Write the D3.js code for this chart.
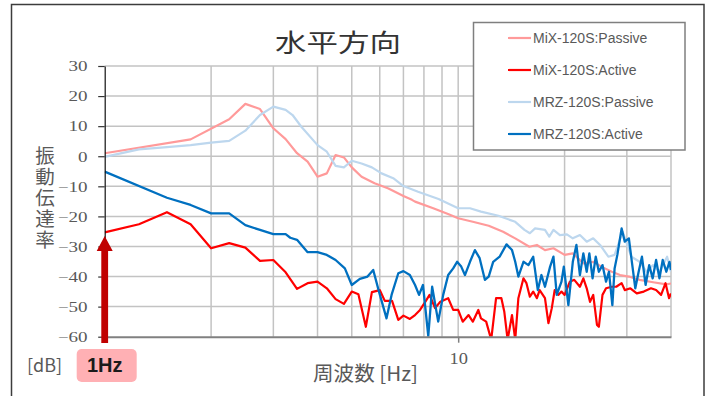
<!DOCTYPE html>
<html>
<head>
<meta charset="utf-8">
<script src="https://cdn.jsdelivr.net/npm/d3@7/dist/d3.min.js"></script>
<style>
  body { margin: 0; background: #fff; }
  svg { display: block; }
</style>
</head>
<body>
<svg id="chart" width="713" height="396"></svg>
<script>
// ---- Data: transmissibility [dB] versus frequency [Hz] ----
const seriesNames = ["MiX-120S:Passive", "MiX-120S:Active", "MRZ-120S:Passive", "MRZ-120S:Active"];

const mixPassiveHz = [1, 1.75, 2.25, 2.5, 2.75, 3, 3.25, 3.5, 3.75, 4, 4.25, 4.5, 4.75, 5, 5.33, 5.8, 6.35, 7.0, 7.4, 7.55, 8.5, 9.4, 10, 11, 12.2, 13.4, 14.5, 15.9, 16.7, 17.6, 18.6, 20, 21.1, 22.6, 24.1, 25.4, 27.2, 28.7, 30.4, 32.6, 35.6, 38.8, 40];
const mixPassiveDb = [1.0, 5.6, 12.3, 17.4, 15.7, 9.3, 5.7, 1.0, -1.8, -6.8, -5.7, 0.4, -0.4, -3.7, -6.8, -9.0, -10.7, -13.2, -14.5, -15.1, -17.3, -19.3, -20.6, -21.8, -23.1, -25.1, -27.3, -30.1, -29.5, -31.2, -30.6, -32.8, -32.3, -35.6, -35.1, -36.7, -38.4, -39.5, -40.0, -41.1, -41.9, -42.6, -42.3];

const mixActiveHz = [1, 1.25, 1.5, 1.75, 2, 2.25, 2.5, 2.75, 3, 3.25, 3.5, 3.75, 4, 4.25, 4.5, 4.75, 5, 5.22, 5.48, 5.7, 6.0, 6.2, 6.5, 6.77, 7.0, 7.3, 7.55, 7.8, 8.07, 8.3, 8.6, 8.9, 9.37, 9.68, 10, 10.3, 10.7, 11, 11.4, 11.6, 12.0, 12.4, 12.8, 13.25, 13.5, 13.8, 14.2, 14.5, 14.8, 15.3, 15.6, 15.95, 16.3, 16.7, 17.0, 17.6, 18.0, 18.4, 18.75, 19.2, 19.6, 20, 20.7, 21.3, 22.1, 22.6, 23.1, 23.6, 24.1, 24.7, 25.0, 25.6, 26.2, 27.2, 28.0, 29.0, 29.6, 30.7, 32.0, 33.5, 35.1, 36.3, 37.5, 38.6, 39.5, 40];
const mixActiveDb = [-25.3, -22.6, -18.6, -22.6, -30.6, -28.9, -30.4, -34.8, -34.5, -38.6, -44.1, -42.2, -41.7, -43.9, -47.5, -49.1, -45.0, -45.9, -56.7, -45.2, -44.5, -48.1, -48.1, -54.4, -53.0, -54.1, -52.8, -51.1, -48.4, -46.1, -50.5, -48.4, -47.2, -51.1, -51.1, -55.0, -52.8, -55.0, -51.1, -53.9, -55.0, -61.0, -47.2, -47.2, -51.6, -61.0, -52.8, -61.0, -47.2, -40.6, -42.2, -46.7, -45.0, -47.2, -44.5, -47.2, -55.5, -50.5, -44.5, -46.1, -45.0, -46.1, -41.7, -41.1, -43.4, -40.6, -43.9, -48.4, -46.1, -56.1, -56.7, -46.1, -43.9, -43.4, -43.4, -42.2, -44.5, -43.9, -45.6, -45.0, -43.9, -44.5, -46.1, -42.2, -47.2, -45.6];

const mrzPassiveHz = [1, 1.25, 1.5, 1.75, 2, 2.25, 2.5, 2.75, 3, 3.25, 3.4, 3.6, 4, 4.25, 4.5, 4.75, 5, 5.33, 5.7, 6.07, 6.55, 7.0, 7.7, 8.8, 10, 10.8, 11.6, 13.0, 14.5, 15.4, 15.95, 16.5, 17.6, 18.1, 18.6, 19.4, 20.3, 21.1, 22.1, 23.1, 24.1, 25.2, 26.6, 27.7, 29.2, 30.9, 32.6, 34.1, 35.6, 37.1, 39.0, 40];
const mrzPassiveDb = [-0.2, 2.3, 3.0, 3.7, 4.5, 5.1, 8.5, 13.7, 16.5, 15.4, 13.7, 9.8, 3.7, 1.5, -3.2, -3.7, -1.5, -2.4, -3.7, -5.7, -7.3, -9.9, -11.8, -14.2, -17.3, -17.3, -18.4, -19.8, -21.8, -24.5, -25.6, -24.0, -24.5, -26.7, -24.5, -26.2, -26.0, -27.3, -26.2, -28.4, -27.3, -29.5, -33.4, -32.8, -25.1, -33.4, -35.1, -38.4, -36.2, -38.4, -33.4, -38.4];

const mrzActiveHz = [1, 1.5, 1.75, 2, 2.25, 2.5, 2.75, 3, 3.25, 3.35, 3.5, 3.75, 4, 4.25, 4.5, 4.78, 5, 5.27, 5.54, 5.75, 5.97, 6.27, 6.48, 6.77, 7.0, 7.3, 7.55, 7.75, 7.95, 8.23, 8.44, 8.78, 9.07, 9.37, 9.68, 9.93, 10.2, 10.45, 10.8, 11.15, 11.5, 11.9, 12.2, 12.56, 13.1, 13.7, 14.2, 14.5, 14.8, 15.3, 15.8, 16.3, 16.8, 17.2, 17.6, 18.2, 18.6, 19.0, 19.6, 19.9, 20.5, 21.1, 21.6, 22.1, 22.6, 23.1, 23.5, 24.0, 24.5, 25.0, 25.6, 26.2, 26.7, 27.3, 27.7, 28.2, 29.0, 29.6, 30.4, 31.0, 31.7, 32.4, 33.1, 33.9, 34.7, 35.5, 36.3, 37.1, 37.9, 38.8, 39.6, 40];
const mrzActiveDb = [-5.1, -13.8, -16.2, -19.0, -19.0, -22.9, -24.5, -25.9, -25.9, -27.1, -27.8, -31.9, -31.9, -32.8, -34.5, -37.3, -42.8, -40.8, -40.0, -37.8, -45.0, -53.9, -46.1, -38.9, -38.2, -39.5, -42.8, -46.1, -42.8, -59.8, -43.4, -55.0, -46.1, -39.5, -37.3, -35.1, -36.7, -39.5, -35.1, -31.2, -33.9, -41.1, -40.0, -35.1, -33.4, -29.3, -31.2, -35.1, -40.0, -35.1, -36.2, -33.4, -44.5, -39.5, -43.4, -36.7, -33.4, -46.1, -41.7, -36.7, -49.5, -35.1, -29.5, -39.5, -32.3, -38.4, -32.3, -40.6, -33.4, -38.4, -36.2, -41.7, -38.4, -49.5, -37.3, -32.8, -24.0, -28.4, -27.3, -35.1, -43.9, -38.4, -33.4, -42.8, -36.2, -40.6, -34.5, -40.6, -34.5, -38.4, -35.1, -37.8];

// Axis ticks and grid frequencies
const yTicks = [-60, -50, -40, -30, -20, -10, 0, 10, 20, 30];
const xGridHz = [1, 2, 3, 4, 5, 6, 7, 8, 9, 10, 20, 30, 40];
const xTickHz = [10];
const yTitle = "振動伝達率";
const markerHz = 1;        // frequency called out by the arrow
const markerTipDb = -26.5; // where the arrow head ends

// ---- Styles ----
const seriesColors = ["#ff9a9a", "#ff0000", "#bdd7ee", "#0070c0"];
const seriesWidths = [2.2, 2.2, 2.2, 2.3];

const seriesData = [
  d3.zip(mixPassiveHz, mixPassiveDb),
  d3.zip(mixActiveHz, mixActiveDb),
  d3.zip(mrzPassiveHz, mrzPassiveDb),
  d3.zip(mrzActiveHz, mrzActiveDb)
];

const svg = d3.select("#chart");
const x = d3.scaleLog().domain([1, 40]).range([104.7, 671]);
const y = d3.scaleLinear().domain([-60, 30]).range([336.7, 66]);

// outer chart border
svg.append("rect")
  .attr("x", 11.5).attr("y", 4.5)
  .attr("width", 692.5).attr("height", 420)
  .attr("fill", "#fff").attr("stroke", "#3c3c3c").attr("stroke-width", 1.5);

// title
svg.append("text")
  .attr("x", 275).attr("y", 52)
  .attr("textLength", 126).attr("lengthAdjust", "spacingAndGlyphs")
  .attr("font-family", "'Noto Sans CJK JP', sans-serif")
  .attr("font-size", 25).attr("fill", "#333")
  .text("水平方向");

// grid
const grid = svg.append("g").attr("stroke", "#c3c3c3").attr("stroke-width", 1.5);
grid.selectAll("line.h").data(yTicks.filter(d => d > -60)).join("line")
  .attr("class", "h")
  .attr("x1", x(1)).attr("x2", x(40))
  .attr("y1", d => y(d)).attr("y2", d => y(d));
grid.selectAll("line.v").data(xGridHz.filter(d => d > 1)).join("line")
  .attr("class", "v")
  .attr("x1", d => x(d)).attr("x2", d => x(d))
  .attr("y1", y(30)).attr("y2", y(-60));

// series
svg.append("defs").append("clipPath").attr("id", "plotClip")
  .append("rect")
  .attr("x", x(1)).attr("y", y(30))
  .attr("width", x(40) - x(1)).attr("height", y(-60) - y(30));

const line = d3.line().x(d => x(d[0])).y(d => y(d[1]));
svg.append("g").attr("clip-path", "url(#plotClip)")
  .selectAll("path").data(seriesData).join("path")
  .attr("d", line)
  .attr("fill", "none")
  .attr("stroke", (d, i) => seriesColors[i])
  .attr("stroke-width", (d, i) => seriesWidths[i])
  .attr("stroke-linejoin", "round");

// y axis
const yAxis = svg.append("g")
  .attr("transform", `translate(${x(1)},0)`)
  .call(d3.axisLeft(y).tickValues(yTicks).tickSize(6.5).tickSizeOuter(0).tickPadding(7));
yAxis.select(".domain").attr("stroke", "#111").attr("stroke-width", 1.2);
yAxis.selectAll(".tick line").attr("stroke", "#333").attr("stroke-width", 1.2);
yAxis.selectAll(".tick text")
  .attr("font-family", "'Liberation Serif', serif")
  .attr("font-size", 15)
  .attr("fill", "#595959")
  .attr("transform", "scale(1.27,1)");

// x axis
const xAxis = svg.append("g")
  .attr("transform", `translate(0,${y(-60)})`)
  .call(d3.axisBottom(x).tickValues(xTickHz).tickFormat(d3.format("d")).tickSize(6).tickSizeOuter(0).tickPadding(10));
xAxis.select(".domain").attr("stroke", "#808080").attr("stroke-width", 2);
xAxis.selectAll(".tick line").attr("stroke", "#808080").attr("stroke-width", 1.5);
xAxis.selectAll(".tick text")
  .attr("font-family", "'Liberation Serif', serif")
  .attr("font-size", 16)
  .attr("fill", "#595959")
  .attr("transform", "scale(1.15,1)");

// y axis title, set vertically
svg.append("text")
  .attr("x", 45).attr("y", 146)
  .attr("writing-mode", "vertical-rl")
  .attr("letter-spacing", 1.5)
  .attr("font-family", "'Noto Sans CJK JP', sans-serif")
  .attr("font-size", 19.5).attr("fill", "#595959")
  .text(yTitle);

svg.append("text")
  .attr("x", 27).attr("y", 372)
  .attr("font-family", "'Noto Sans CJK JP', sans-serif")
  .attr("font-size", 18).attr("fill", "#595959")
  .text("[dB]");

// x axis title
svg.append("text")
  .attr("x", 313).attr("y", 381)
  .attr("textLength", 105).attr("lengthAdjust", "spacingAndGlyphs")
  .attr("font-family", "'Noto Sans CJK JP', sans-serif")
  .attr("font-size", 20).attr("fill", "#595959")
  .text("周波数 [Hz]");

// 1 Hz callout: badge and arrow
svg.append("rect")
  .attr("x", x(markerHz) - 28).attr("y", 349)
  .attr("width", 60).attr("height", 33).attr("rx", 5)
  .attr("fill", "#ffb0b4");
svg.append("text")
  .attr("x", x(markerHz)).attr("y", 372)
  .attr("text-anchor", "middle")
  .attr("font-family", "'Liberation Sans', Arial, sans-serif")
  .attr("font-weight", "bold")
  .attr("font-size", 20).attr("fill", "#1a1a1a")
  .text("1Hz");

const ax = x(markerHz), tipY = y(markerTipDb);
svg.append("path")
  .attr("d", `M${ax},${tipY} L${ax + 8},${tipY + 15} L${ax + 3.4},${tipY + 15} L${ax + 3.4},343 L${ax - 3.4},343 L${ax - 3.4},${tipY + 15} L${ax - 8},${tipY + 15} Z`)
  .attr("fill", "#c00000");

// legend
const legend = svg.append("g");
legend.append("rect")
  .attr("x", 473.5).attr("y", 22.5)
  .attr("width", 211.5).attr("height", 127.5)
  .attr("fill", "#fff").attr("stroke", "#7f7f7f").attr("stroke-width", 1.5);
const items = legend.selectAll("g.item").data(seriesNames).join("g")
  .attr("class", "item")
  .attr("transform", (d, i) => `translate(0,${38 + i * 32})`);
items.append("line")
  .attr("x1", 508).attr("x2", 531)
  .attr("stroke", (d, i) => seriesColors[i])
  .attr("stroke-width", 2.2);
items.append("text")
  .attr("x", 533).attr("y", 5.3)
  .attr("font-family", "'Liberation Sans', Arial, sans-serif")
  .attr("font-size", 14).attr("fill", "#595959")
  .text(d => d);
</script>
</body>
</html>
